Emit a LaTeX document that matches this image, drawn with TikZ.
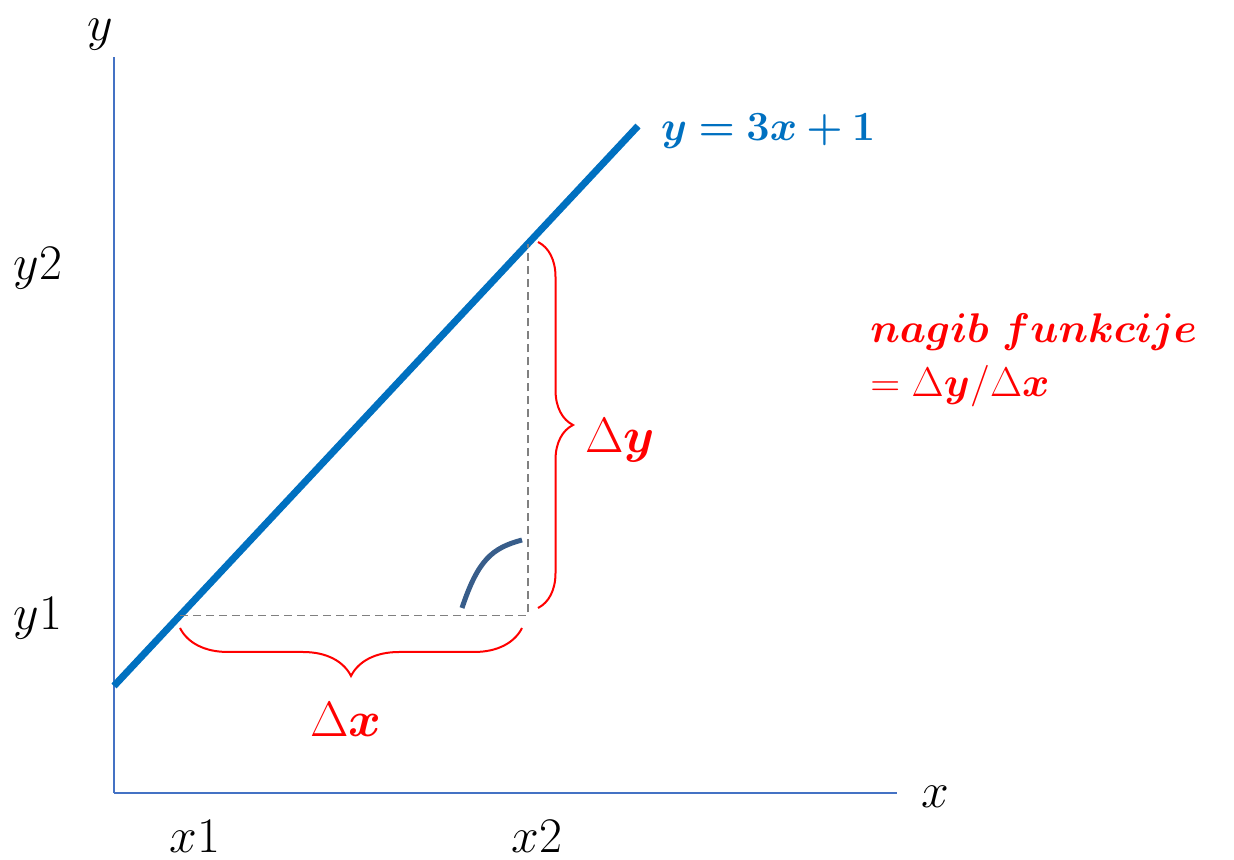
\documentclass[tikz,border=0pt]{standalone}
\usepackage{amsmath,amssymb,bm}
\usepackage{tikz}
\usetikzlibrary{calc,decorations.pathreplacing}

\definecolor{axisblue}{HTML}{4472C4}
\definecolor{lineblue}{HTML}{0070C0}
\definecolor{arcblue}{HTML}{385D8A}
\definecolor{dashgray}{HTML}{808080}

\begin{document}
\begin{tikzpicture}[x=0.5pt, y=0.5pt, font=\fontsize{24}{29}\selectfont,
  axis/.style={axisblue, line width=1pt},
  guide/.style={dashgray, line width=0.8pt, dash pattern=on 4pt off 2.5pt},
  curly/.style={red, line width=1pt, decorate, decoration={brace, amplitude=#1}},
  redlab/.style={text=red},
  small/.style={font=\fontsize{22.5}{27}\selectfont}]
\useasboundingbox (0,0) rectangle (1234,860);

% Points
\coordinate (O) at (114,67);
\coordinate (Ytop) at (114,803);
\coordinate (Xend) at (897,67);
\coordinate (L0) at (114,174);
\coordinate (L1) at (638,734);
\coordinate (P1) at ($(L0)!0.126!(L1)$);
\coordinate (P2) at ($(L0)!0.790!(L1)$);
\coordinate (C) at (P2 |- P1);

% Axes
\draw[axis] (O) -- (Ytop);
\draw[axis] (O) -- (Xend);
\node[inner sep=0pt] (ylab) at (100,825) {$y$};
\node (xlab) at (935,63) {$x$};

% Tick labels
\node (y2lab) at (38,592) {$y2$};
\node (y1lab) at (38,242) {$y1$};
\node (x1lab) at (195,24) {$x1$};
\node (x2lab) at (537,24) {$x2$};

% Line
\draw[lineblue, line width=3.5pt] (L0) -- (L1);
\node[small, anchor=west, text=lineblue] (eq) at (654,729) {$\bm{y=3x+1}$};

% Triangle
\draw[guide] (P1) -- (C) -- (P2);

% Angle
\draw[arcblue, line width=2.5pt] (462,252) .. controls (478,300) and (492,312) .. (522,320);

% Braces
\draw[curly=24pt] (522,232) -- (180,232);
\node[redlab] (dx) at (346,140) {$\Delta\bm{x}$};
\draw[curly=17.5pt] (538,618) -- (538,252);
\node[redlab, anchor=west] (dy) at (578,420) {$\Delta\bm{y}$};

% Slope
\node[small, redlab, anchor=west, inner sep=0pt] (slope) at (870,528) {$\bm{nagib\ funkcije}$};
\node[small, redlab, anchor=west, inner sep=0pt] (ratio) at (870,474) {$=\Delta\bm{y}/\Delta\bm{x}$};

\end{tikzpicture}
\end{document}
